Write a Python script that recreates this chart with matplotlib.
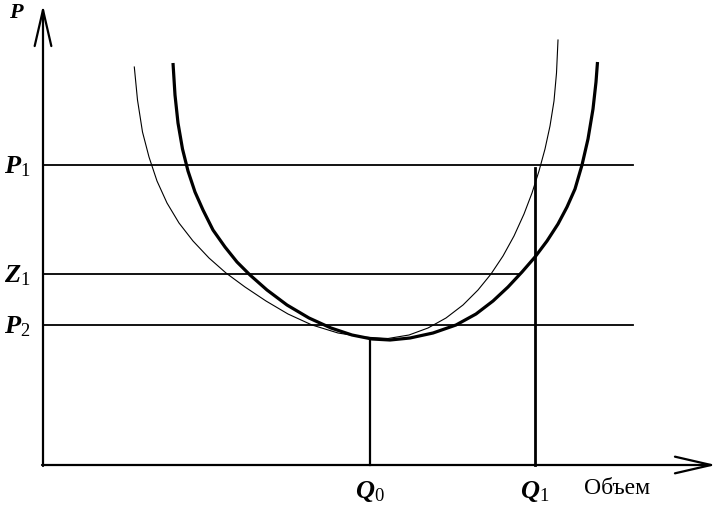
import numpy as np
from matplotlib import pyplot as plt

plt.rcParams['font.family'] = ['Liberation Serif', 'DejaVu Serif']
plt.rcParams['mathtext.fontset'] = 'custom'
plt.rcParams['mathtext.it'] = 'Liberation Serif:italic:bold'
plt.rcParams['mathtext.rm'] = 'Liberation Serif'

# thin curve (old cost curve)
q_thin = np.array([9.13, 9.45, 9.95, 10.6, 11.4, 12.4, 13.6, 15.0, 16.6, 18.3,
                   20.2, 22.3, 24.5, 26.9, 29.5, 32.0, 34.5, 36.6, 38.5, 40.3,
                   42.0, 43.5, 44.8, 46.0, 47.1, 48.1, 48.9, 49.6, 50.2, 50.7,
                   51.1, 51.35, 51.5])
p_thin = np.array([39.8, 36.5, 33.3, 30.8, 28.4, 26.2, 24.2, 22.4, 20.7, 19.2,
                   17.8, 16.4, 15.1, 14.0, 13.2, 12.8, 12.65, 13.0, 13.7, 14.7,
                   16.0, 17.5, 19.1, 20.9, 22.9, 25.1, 27.2, 29.4, 31.6, 33.9,
                   36.4, 39.2, 42.5])

# thick curve (new cost curve)
q_thick = np.array([13.0, 13.2, 13.5, 13.95, 14.5, 15.2, 16.0, 17.0, 18.2, 19.4,
                    20.7, 22.4, 24.4, 26.6, 28.8, 30.9, 32.9, 34.7, 36.7, 39.0,
                    41.3, 43.3, 45.0, 46.5, 47.9, 49.2, 50.4, 51.5, 52.4, 53.2,
                    53.9, 54.5, 55.0, 55.3, 55.45])
p_thick = np.array([40.2, 37.0, 34.2, 31.6, 29.4, 27.3, 25.5, 23.5, 21.8, 20.3,
                    19.0, 17.5, 16.0, 14.7, 13.7, 13.0, 12.6, 12.5, 12.7, 13.2,
                    14.0, 15.1, 16.4, 17.8, 19.3, 20.8, 22.4, 24.1, 25.8, 27.6,
                    30.0, 32.6, 35.6, 38.3, 40.3])

price_levels = {'P1': 30.0, 'Z1': 19.1, 'P2': 14.0}
q0, q1 = 32.7, 49.2

fig = plt.figure(figsize=(7.2, 5.05), dpi=100)
ax = fig.add_axes([0, 0, 1, 1])
ax.set_xlim(-4.3, 67.7)
ax.set_ylim(-4.0, 46.5)
ax.axis('off')

ax.plot(q_thin, p_thin, color='black', lw=0.8, solid_joinstyle='round')
ax.plot(q_thick, p_thick, color='black', lw=2.3, solid_capstyle='butt',
        solid_joinstyle='round')

ax.plot([0, 59.0], [price_levels['P1']] * 2, color='black', lw=1.3)
ax.plot([0, 47.7], [price_levels['Z1']] * 2, color='black', lw=1.3)
ax.plot([0, 59.0], [price_levels['P2']] * 2, color='black', lw=1.3)

ax.plot([q0, q0], [0, 12.6], color='black', lw=1.6)
ax.plot([q1, q1], [0, 29.7], color='black', lw=2.0)

# axes with open arrow heads
arrow = dict(arrowstyle='->,head_length=1.3,head_width=0.3', lw=1.6,
             color='black', mutation_scale=20, shrinkA=0, shrinkB=0)
ax.annotate('', xy=(67.3, 0), xytext=(-0.1, 0), arrowprops=arrow)
ax.annotate('', xy=(0, 46.0), xytext=(0, -0.1), arrowprops=arrow)

lab = dict(fontsize=19, ha='center', va='center')
ax.text(-2.6, 45.1, r'$\mathit{P}$', fontsize=16, ha='center', va='center')
ax.text(-2.6, 29.8, r'$\mathit{P}_1$', **lab)
ax.text(-2.6, 18.9, r'$\mathit{Z}_1$', **lab)
ax.text(-2.6, 13.8, r'$\mathit{P}_2$', **lab)
ax.text(q0, -2.6, r'$\mathit{Q}_0$', **lab)
ax.text(q1, -2.6, r'$\mathit{Q}_1$', **lab)
ax.text(57.4, -2.3, 'Объем', fontsize=17, ha='center', va='center')

fig.savefig('out.png', dpi=100)
